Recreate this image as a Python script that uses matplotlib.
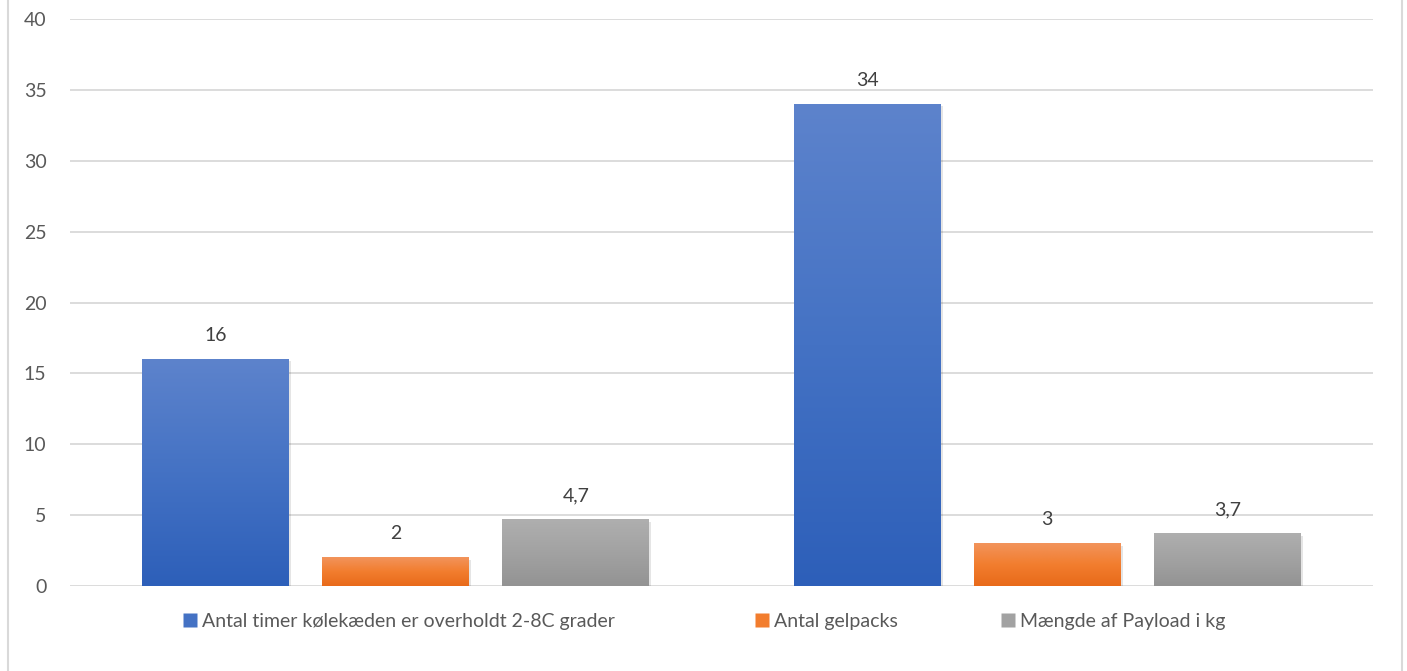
import numpy as np
import matplotlib
matplotlib.use("Agg")
import matplotlib.pyplot as plt
from matplotlib.colors import LinearSegmentedColormap
from matplotlib.lines import Line2D

# ======================================================
# DATOS
# ======================================================

grupos = ["Grupo 1", "Grupo 2"]
series = ["Antal timer kølekæden er overholdt 2-8C grader",
          "Antal gelpacks",
          "Mængde af Payload i kg"]
valores = [
    [16, 34],
    [2, 3],
    [4.7, 3.7],
]
etiquetas = [
    ["16", "34"],
    ["2", "3"],
    ["4,7", "3,7"],
]

# gradiente (arriba, medio, abajo)
colores = [
    ["#5d83cc", "#4472c4", "#2d5fb9"],
    ["#f2945c", "#f27d2e", "#e86a1a"],
    ["#afafaf", "#a2a2a2", "#939393"],
]
color_leyenda = ["#4472c4", "#f27d2e", "#a2a2a2"]

plt.rcParams["font.family"] = ["Lato", "DejaVu Sans"]

fig = plt.figure(figsize=(14.07, 6.71), dpi=100)
ax = fig.add_axes([70 / 1407, 1 - 586 / 671, (1373 - 70) / 1407, (586 - 19) / 671])

ancho = 0.2256
paso = 0.2763
x = np.arange(len(grupos))

for i, serie in enumerate(series):
    xs = x + (i - 1) * paso
    cmap = LinearSegmentedColormap.from_list("g%d" % i, colores[i][::-1])
    barras = ax.bar(xs, valores[i], width=ancho, color="none", zorder=3)
    for b in barras:
        x0 = b.get_x()
        h = b.get_height()
        # sombra
        ax.add_patch(plt.Rectangle((x0 + 0.003, -0.15), ancho, h, color="black",
                                   alpha=0.10, zorder=2, lw=0))
        grad = np.linspace(0, 1, 256).reshape(-1, 1)
        ax.imshow(grad, extent=[x0, x0 + ancho, 0, h], origin="lower", cmap=cmap,
                  aspect="auto", zorder=3)
    for xi, v, t in zip(xs, valores[i], etiquetas[i]):
        ax.annotate(t, (xi, v), xytext=(0, 11), textcoords="offset points",
                    ha="center", va="bottom", fontsize=14, color="#404040")

ax.set_xlim(-0.5, 1.5)
ax.set_ylim(0, 40)
ax.set_yticks(np.arange(0, 41, 5))
ax.set_xticks([])
ax.yaxis.grid(True, color="#d9d9d9", linewidth=1.3, zorder=0)
ax.set_axisbelow(True)
for s in ax.spines.values():
    s.set_visible(False)
ax.tick_params(axis="y", length=0, pad=17, labelsize=14, labelcolor="#595959")

# leyenda
pos_x = [183 / 1407, 755 / 1407, 1001 / 1407]
for i, serie in enumerate(series):
    h = Line2D([], [], marker="s", linestyle="none", markersize=10,
               markerfacecolor=color_leyenda[i], markeredgecolor="none")
    leg = fig.legend([h], [serie], loc="center left",
                     bbox_to_anchor=(pos_x[i], 1 - 621 / 671), frameon=False,
                     fontsize=14, handlelength=0.7, handletextpad=0.3,
                     borderaxespad=0, borderpad=0, labelcolor="#595959")

# borde
fig.add_artist(Line2D([8 / 1407, 8 / 1407], [0, 1], color="#d9d9d9", linewidth=1.5))
fig.add_artist(Line2D([1402 / 1407, 1402 / 1407], [0, 1], color="#d9d9d9", linewidth=1.5))

plt.savefig("out.png", dpi=100)
